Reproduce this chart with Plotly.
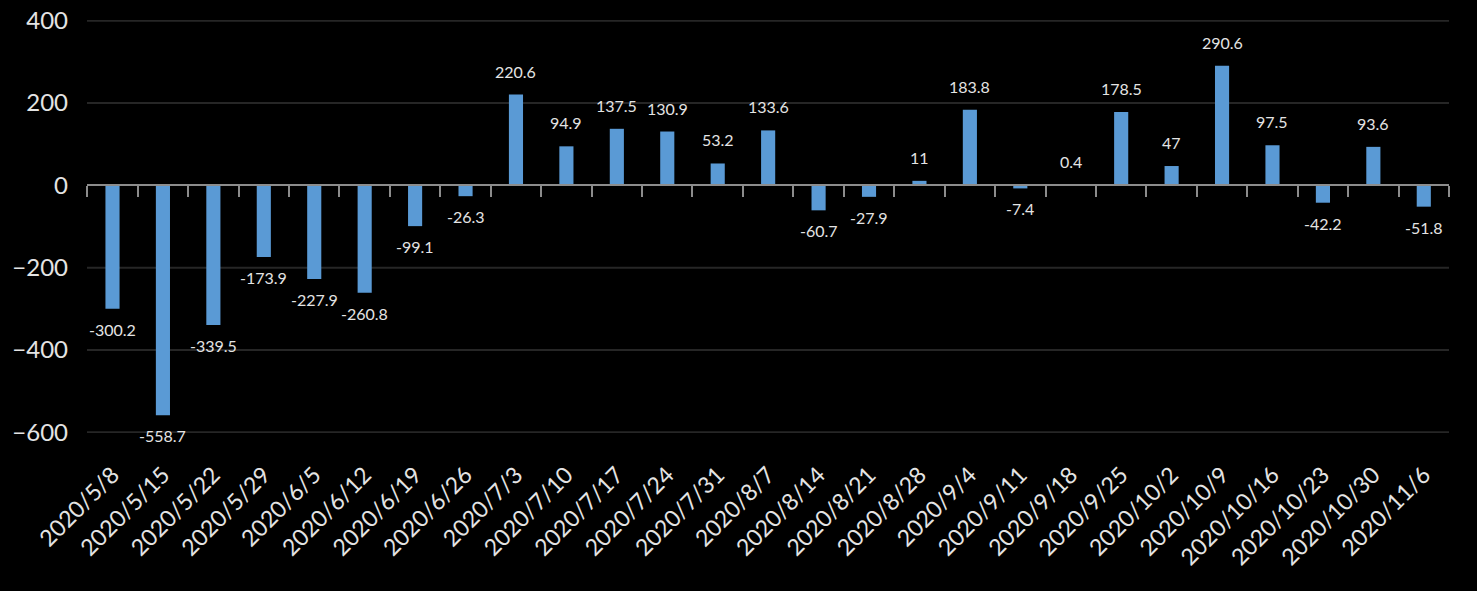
import plotly.graph_objects as go

dates = ["2020/5/8", "2020/5/15", "2020/5/22", "2020/5/29", "2020/6/5", "2020/6/12",
         "2020/6/19", "2020/6/26", "2020/7/3", "2020/7/10", "2020/7/17", "2020/7/24",
         "2020/7/31", "2020/8/7", "2020/8/14", "2020/8/21", "2020/8/28", "2020/9/4",
         "2020/9/11", "2020/9/18", "2020/9/25", "2020/10/2", "2020/10/9", "2020/10/16",
         "2020/10/23", "2020/10/30", "2020/11/6"]
values = [-300.2, -558.7, -339.5, -173.9, -227.9, -260.8, -99.1, -26.3, 220.6, 94.9,
          137.5, 130.9, 53.2, 133.6, -60.7, -27.9, 11, 183.8, -7.4, 0.4, 178.5, 47,
          290.6, 97.5, -42.2, 93.6, -51.8]
y_ticks = [-600, -400, -200, 0, 200, 400]

FONT = "Lato, 'Open Sans', sans-serif"
TXT = "#e4e4e4"
GRID = "#262626"

fig = go.Figure()
fig.add_trace(go.Bar(
    x=dates, y=values, xaxis="x", yaxis="y",
    marker=dict(color="#5a9ad5", line=dict(width=0)),
    hoverinfo="x+y",
))
# axis line at zero with boundary ticks
fig.add_trace(go.Scatter(x=dates, y=[0] * len(dates), xaxis="x2", yaxis="y",
                         mode="none", hoverinfo="skip", showlegend=False))

annotations = []
for d, v in zip(dates, values):
    pos = v >= 0
    annotations.append(dict(
        x=d, y=v, xref="x", yref="y", text=f"{v:g}", showarrow=False,
        yanchor="bottom" if pos else "top", yshift=12 if pos else -9,
        font=dict(family=FONT, size=16, color=TXT),
    ))

# gridlines drawn as shapes (so edge lines are shown too)
shapes = [dict(type="line", xref="paper", yref="y", x0=0, x1=1, y0=t, y1=t,
               line=dict(color=GRID, width=2), layer="below")
          for t in y_ticks if t != 0]

ymin, ymax = -602, 402
zero_frac = (0 - ymin) / (ymax - ymin)

fig.update_layout(
    width=1477, height=591,
    paper_bgcolor="#000000", plot_bgcolor="#000000",
    margin=dict(l=87, r=28, t=20, b=158, autoexpand=False),
    showlegend=False,
    bargap=0.72,
    annotations=annotations,
    shapes=shapes,
    xaxis=dict(
        type="category", categoryorder="array", categoryarray=dates,
        tickangle=-45, tickfont=dict(family=FONT, size=23, color=TXT),
        showgrid=False, showline=False, ticks="", zeroline=False,
        ticklabelstandoff=23, automargin=False,
    ),
    xaxis2=dict(
        type="category", categoryorder="array", categoryarray=dates,
        overlaying="x", matches="x", anchor="free", position=zero_frac, side="bottom",
        showticklabels=False, showgrid=False, showline=True,
        linecolor="#8c8c8c", linewidth=2, automargin=False,
        ticks="outside", tickson="boundaries", ticklen=11, tickwidth=2,
        tickcolor="#8c8c8c",
    ),
    yaxis=dict(
        range=[ymin, ymax], tickvals=y_ticks,
        tickfont=dict(family=FONT, size=24, color=TXT),
        showgrid=False,
        zeroline=False, showline=False, ticks="",
        ticklabelstandoff=18, automargin=False,
    ),
)

fig.write_html("out.html", config={"displayModeBar": False},
               post_script="document.body.style.margin='0';document.body.style.background='#000';")
